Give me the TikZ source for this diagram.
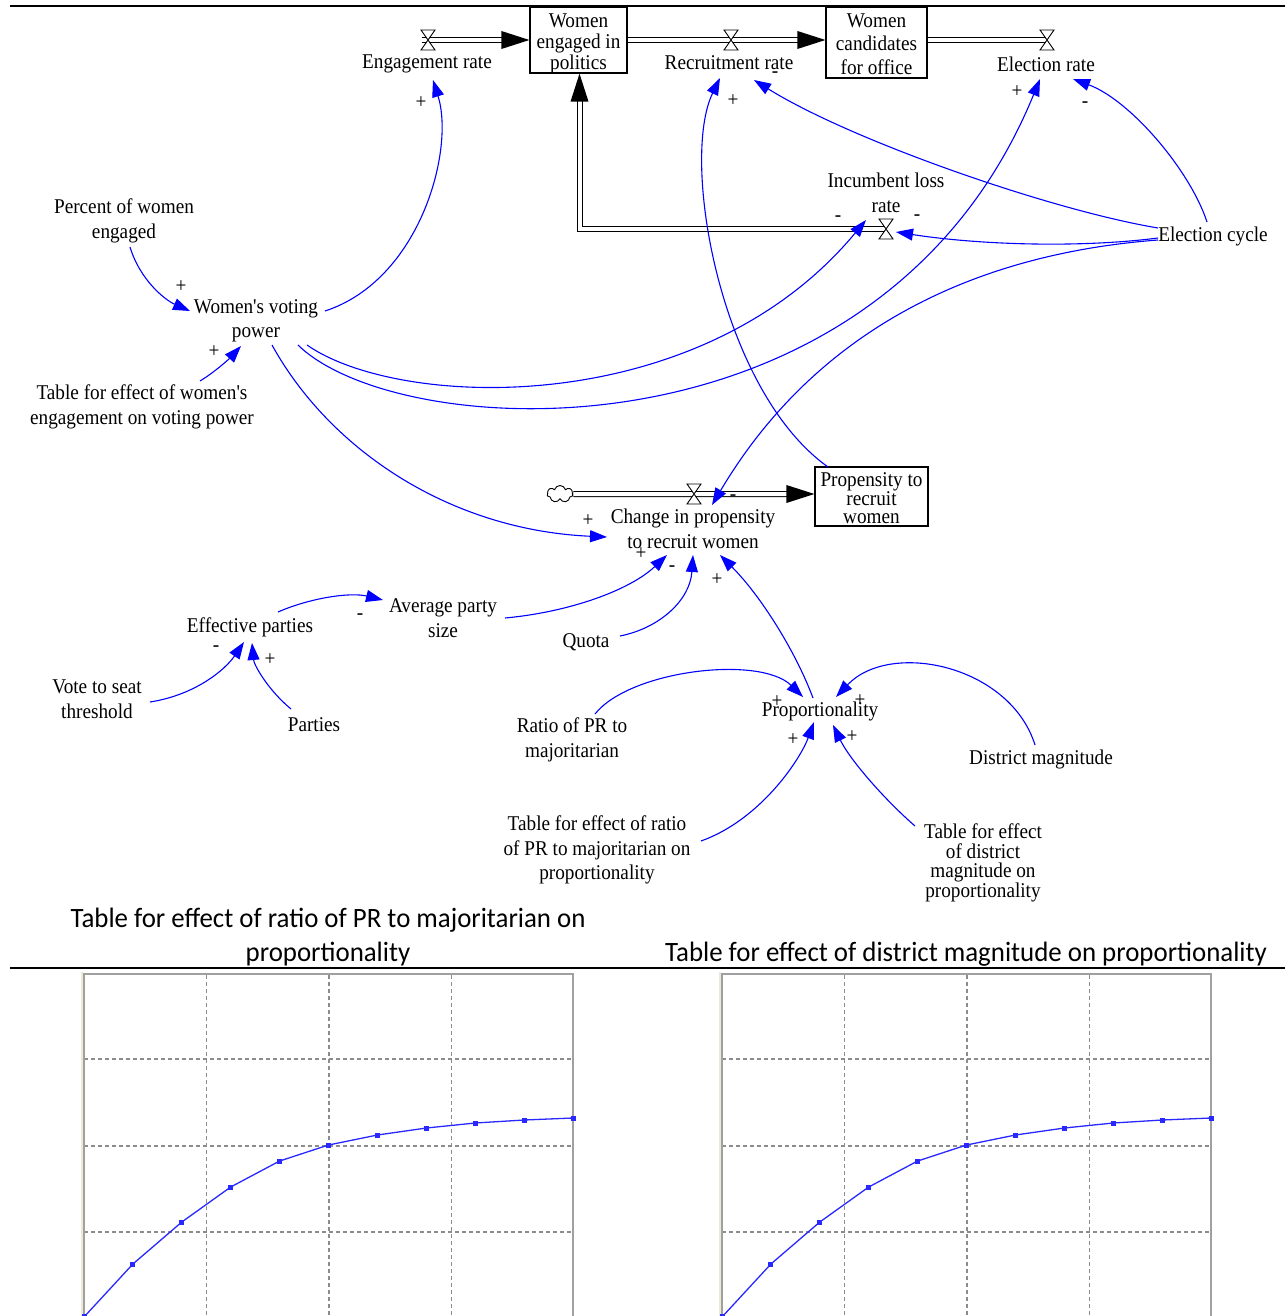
\documentclass[tikz,border=0pt]{standalone}
\usepackage{fontspec}
\setmainfont{Liberation Serif}[FakeStretch=0.915, Ligatures=TeXOff]
\newfontfamily\chartfont{Carlito}[FakeStretch=0.96]
\usetikzlibrary{arrows.meta,shapes.symbols}
\definecolor{linkblue}{RGB}{0,0,255}
\definecolor{gridgray}{RGB}{140,140,140}
\definecolor{framegray}{RGB}{160,160,160}
\definecolor{framebeige}{RGB}{236,233,216}
\definecolor{curveblue}{RGB}{40,40,255}
\tikzset{
  lbl/.style={inner sep=0pt, align=center, font=\fontsize{21}{24.5}\selectfont},
  stockbox/.style={draw, line width=1.2pt, inner sep=0pt, align=center},
  link/.style={draw=linkblue, line width=1.1pt, -{Triangle[length=17pt,width=12pt]}},
  sgn/.style={inner sep=0pt, font=\fontsize{21}{22}\selectfont},
  pipe/.style={double, double distance=4pt, line width=1pt},
  tip/.style={fill=black},
  valve/.pic={\draw[line width=0.9pt, fill=white] (-7,-10) -- (7,-10) -- (-7,10) -- (7,10) -- cycle;},
  grid/.style={gridgray, dashed, dash pattern=on 4pt off 3pt, line width=1.1pt},
  charttitle/.style={inner sep=0pt, align=center, font=\chartfont\fontsize{28}{34}\selectfont}
}
\begin{document}
\begin{tikzpicture}[x=1pt, y=-1pt]
\useasboundingbox (0,0) rectangle (1285,1316);
% rules
\draw[line width=2pt] (10,6) -- (1285,6);
\draw[line width=2pt] (10,968) -- (1285,968);

% stocks
\node[stockbox, minimum width=97pt, minimum height=66pt] (wep) at (578.5,40) {};
\node[lbl, font=\fontsize{21}{21}\selectfont] at (578.5,44) {Women\\engaged in\\politics};
\node[stockbox, minimum width=101pt, minimum height=71pt] (wco) at (876.5,42.5) {};
\node[lbl, font=\fontsize{21}{23.5}\selectfont] at (876.5,44) {Women\\candidates\\for office};
\node[stockbox, minimum width=113pt, minimum height=59pt] (ptr) at (871.5,496.5) {};
\node[lbl, font=\fontsize{21}{17.5}\selectfont] at (871.5,498) {Propensity to\\recruit\\women};

% valves and cloud
\coordinate (vEng) at (428,40);
\coordinate (vRec) at (731,40);
\coordinate (vEle) at (1047,40);
\coordinate (vInc) at (886,229);
\coordinate (vChg) at (694,494);
\node[cloud, draw, cloud puffs=7, aspect=1.5, minimum width=26pt, minimum height=17pt, inner sep=0pt, line width=0.9pt] (cld) at (560,494) {};

% pipes
\draw[pipe] ([shift={(-6,0)}]vEng) -- ([shift={(-27,0)}]wep.west);
\fill[tip] (wep.west) -- ([shift={(-28,-9)}]wep.west) -- ([shift={(-28,9)}]wep.west) -- cycle;
\draw[pipe] (wep.east |- vRec) -- ([shift={(-27,0)}]wco.west |- vRec);
\fill[tip] (wco.west |- vRec) -- ([shift={(-28,-9)}]wco.west |- vRec) -- ([shift={(-28,9)}]wco.west |- vRec) -- cycle;
\draw[pipe] (wco.east |- vEle) -- (vEle);
\draw[pipe] (vInc) -| ([shift={(1,27)}]wep.south);
\fill[tip] ([shift={(1,0)}]wep.south) -- ([shift={(-8,28)}]wep.south) -- ([shift={(10,28)}]wep.south) -- cycle;
\draw[pipe] (cld.east) -- ([shift={(-27,0)}]ptr.west |- vChg);
\fill[tip] (ptr.west |- vChg) -- ([shift={(-28,-9)}]ptr.west |- vChg) -- ([shift={(-28,9)}]ptr.west |- vChg) -- cycle;
\pic at (vEng) {valve};
\pic at (vRec) {valve};
\pic at (vEle) {valve};
\pic at (vInc) {valve};
\pic at (vChg) {valve};

% variable labels
\node[lbl] (er) at (427,64) {Engagement rate};
\node[lbl] (rr) at (729,63) {Recruitment rate};
\node[lbl] (elr) at (1046,64) {Election rate};
\node[lbl] (ilr) at (886,193) {Incumbent loss\\rate};
\node[lbl] (cpr) at (693,529) {Change in propensity\\to recruit women};
\node[lbl] (pwe) at (124,221) {Percent of women\\engaged};
\node[lbl] (wvp) at (256,321) {Women's voting\\power};
\node[lbl] (tew) at (142,407) {Table for effect of women's\\engagement on voting power};
\node[lbl] (ec) at (1213,236) {Election cycle};
\node[lbl] (ep) at (250,627) {Effective parties};
\node[lbl] (aps) at (443,618) {Average party\\size};
\node[lbl] (quota) at (586,642) {Quota};
\node[lbl] (vst) at (97,699) {Vote to seat\\threshold};
\node[lbl] (parties) at (314,725) {Parties};
\node[lbl] (rpr) at (572,740) {Ratio of PR to\\majoritarian};
\node[lbl] (prop) at (820,711) {Proportionality};
\node[lbl] (dm) at (1041,759) {District magnitude};
\node[lbl] (ter) at (597,850) {Table for effect of ratio\\of PR to majoritarian on\\proportionality};
\node[lbl, font=\fontsize{21}{19.5}\selectfont] (ted) at (983,863) {Table for effect\\of district\\magnitude on\\proportionality};

% causal links
\draw[link] ([shift={(69,-10)}]wvp.center) .. controls +(95,-31) and +(22,70) .. ([shift={(6,16)}]er.center);
\draw[link] ([shift={(6,26)}]pwe.center) .. controls +(10,33) and +(-25,-11) .. ([shift={(-66,-10)}]wvp.center);
\draw[link] ([shift={(58,-26)}]tew.center) .. controls +(15,-9) and +(-11,12) .. ([shift={(-15,25)}]wvp.center);
\draw[link] ([shift={(16,24)}]wvp.center) .. controls +(58,105) and +(-157,-7) .. ([shift={(-86,8)}]cpr.center);
\draw[link] ([shift={(51,24)}]wvp.center) .. controls +(93,65) and +(-166,200) .. ([shift={(-20,-9)}]vInc);
\draw[link] ([shift={(42,24)}]wvp.center) .. controls +(102,100) and +(-160,391) .. ([shift={(-6,15)}]elr.center);
\draw[link] ([shift={(-43.5,-29.5)}]ptr.center) .. controls +(-108,-77) and +(-40,82) .. ([shift={(-9,15)}]rr.center);
\draw[link] ([shift={(-55,-8)}]ec.center) .. controls +(-108,-18) and +(96,60) .. ([shift={(25,17)}]rr.center);
\draw[link] ([shift={(-6,-14)}]ec.center) .. controls +(-17,-52) and +(57,21) .. ([shift={(27,15)}]elr.center);
\draw[link] ([shift={(-55,2)}]ec.center) .. controls +(-78,10) and +(84,13) .. ([shift={(10,3)}]vInc);
\draw[link] ([shift={(-55,4)}]ec.center) .. controls +(-198,15) and +(98,-165) .. ([shift={(19,-24)}]cpr.center);
\draw[link] ([shift={(28,-15)}]ep.center) .. controls +(32,-14) and +(-33,-8) .. ([shift={(-60,-18)}]aps.center);
\draw[link] ([shift={(62,0)}]aps.center) .. controls +(65,-6) and +(-37,35) .. ([shift={(-26,26)}]cpr.center);
\draw[link] ([shift={(34,-6)}]quota.center) .. controls +(40,-8) and +(-3,45) .. ([shift={(0,26)}]cpr.center);
\draw[link] ([shift={(-7,-13)}]prop.center) .. controls +(-18,-48) and +(40,40) .. ([shift={(27,26)}]cpr.center);
\draw[link] ([shift={(53,3)}]vst.center) .. controls +(45,-7) and +(-19,28) .. ([shift={(-6,15)}]ep.center);
\draw[link] ([shift={(-23,-16)}]parties.center) .. controls +(-23,-19) and +(2,22) .. ([shift={(2,16)}]ep.center);
\draw[link] ([shift={(23,-26)}]rpr.center) .. controls +(35,-44) and +(-43,-42) .. ([shift={(-17,-14)}]prop.center);
\draw[link] ([shift={(-6,-14)}]dm.center) .. controls +(-25,-80) and +(54,-57) .. ([shift={(16,-14)}]prop.center);
\draw[link] ([shift={(104,-9)}]ter.center) .. controls +(59,-21) and +(-14,38) .. ([shift={(-6,11)}]prop.center);
\draw[link] ([shift={(-68,-37)}]ted.center) .. controls +(-30,-26) and +(17,35) .. ([shift={(13,14)}]prop.center);

% polarity signs
\node[sgn] at (421,103) {+};
\node[sgn] at (181,287) {+};
\node[sgn] at (214,352) {+};
\node[sgn] at (588,521) {+};
\node[sgn] at (838,219) {-};
\node[sgn] at (1017,92) {+};
\node[sgn] at (733,101) {+};
\node[sgn] at (775,75) {-};
\node[sgn] at (1085,105) {-};
\node[sgn] at (917,218) {-};
\node[sgn] at (733,498) {-};
\node[sgn] at (360,617) {-};
\node[sgn] at (641,554) {+};
\node[sgn] at (672,569) {-};
\node[sgn] at (717,580) {+};
\node[sgn] at (216,649) {-};
\node[sgn] at (270,660) {+};
\node[sgn] at (777,702) {+};
\node[sgn] at (860,701) {+};
\node[sgn] at (793,740) {+};
\node[sgn] at (852,737) {+};

% chart titles
\node[charttitle] at (328,920) {Table for effect of ratio of PR to majoritarian on};
\node[charttitle] at (328,954) {proportionality};
\node[charttitle] at (966,954) {Table for effect of district magnitude on proportionality};

% charts
\foreach \ox in {84,722} {
  \begin{scope}[shift={(\ox,0)}]
    \draw[framebeige, line width=1.5pt] (-2,972) -- (-2,1320);
    \foreach \gx in {122.5,245,367.5} \draw[grid] (\gx,975) -- (\gx,1320);
    \foreach \gy in {1059,1146,1232} \draw[grid] (0,\gy) -- (489,\gy);
    \draw[framegray, line width=1.5pt] (0,1320) -- (0,974) -- (489,974) -- (489,1320);
    \draw[curveblue, line width=1.3pt] (0,1317) -- (48.9,1264) -- (97.8,1222) -- (146.7,1187) -- (195.6,1161) -- (244.5,1145) -- (293.4,1135) -- (342.3,1128) -- (391.2,1123) -- (440.1,1120) -- (489,1118);
    \foreach \px/\py in {0/1316,48.9/1264,97.8/1222,146.7/1187,195.6/1161,244.5/1145,293.4/1135,342.3/1128,391.2/1123,440.1/1120,489/1118}
      \fill[curveblue] (\px-2.5,\py-2.5) rectangle (\px+2.5,\py+2.5);
  \end{scope}
}
\end{tikzpicture}
\end{document}
